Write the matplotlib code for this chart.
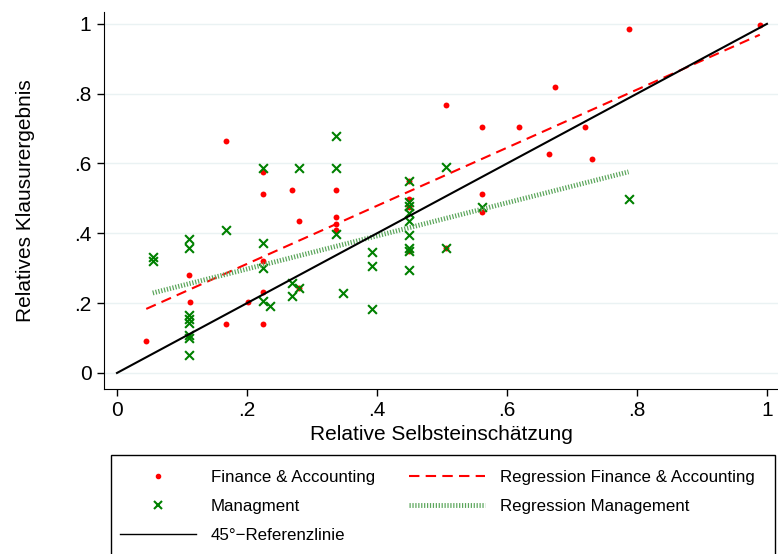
import matplotlib.pyplot as plt
import numpy as np
from matplotlib.lines import Line2D
from matplotlib.patches import Rectangle

plt.rcParams['font.family'] = ['Liberation Sans', 'DejaVu Sans']

# Finance & Accounting (x = Selbsteinschaetzung, y = Klausurergebnis)
fin_x = [0.045, 0.111, 0.112, 0.168, 0.168, 0.202, 0.225, 0.225, 0.225, 0.225,
         0.225, 0.270, 0.280, 0.280, 0.337, 0.337, 0.337, 0.337, 0.449, 0.449,
         0.449, 0.449, 0.506, 0.506, 0.562, 0.562, 0.562, 0.618, 0.664, 0.674,
         0.720, 0.731, 0.787, 0.989]
fin_y = [0.091, 0.282, 0.204, 0.665, 0.141, 0.204, 0.575, 0.512, 0.320, 0.231,
         0.141, 0.525, 0.435, 0.244, 0.525, 0.448, 0.426, 0.410, 0.551, 0.499,
         0.475, 0.348, 0.768, 0.358, 0.704, 0.512, 0.460, 0.704, 0.627, 0.819,
         0.704, 0.614, 0.985, 0.998]

# Management
man_x = [0.055, 0.055, 0.111, 0.111, 0.111, 0.111, 0.111, 0.111, 0.111, 0.111,
         0.168, 0.225, 0.225, 0.225, 0.225, 0.235, 0.270, 0.270, 0.280, 0.280,
         0.337, 0.337, 0.337, 0.348, 0.393, 0.393, 0.393, 0.449, 0.449, 0.449,
         0.449, 0.449, 0.449, 0.449, 0.449, 0.449, 0.506, 0.506, 0.562, 0.787]
man_y = [0.333, 0.321, 0.384, 0.358, 0.166, 0.154, 0.142, 0.109, 0.099, 0.052,
         0.410, 0.588, 0.372, 0.300, 0.206, 0.193, 0.257, 0.219, 0.588, 0.244,
         0.679, 0.588, 0.398, 0.230, 0.347, 0.307, 0.182, 0.551, 0.491, 0.477,
         0.458, 0.435, 0.396, 0.358, 0.348, 0.296, 0.589, 0.358, 0.474, 0.499]

# fitted lines (intercept, slope)
fin_fit = (0.146, 0.832)
man_fit = (0.203, 0.474)

ticks = [0, 0.2, 0.4, 0.6, 0.8, 1]
tick_labels = ['0', '.2', '.4', '.6', '.8', '1']

fig = plt.figure(figsize=(7.78, 5.54), dpi=100)
ax = fig.add_axes([104/778, 165/554, 674/778, 377/554])

ax.scatter(fin_x, fin_y, s=18, color='red', marker='o', linewidths=0, zorder=3)
fx = np.array([min(fin_x), max(fin_x)])
ax.plot(fx, fin_fit[0] + fin_fit[1]*fx, color='red', lw=1.5, dashes=(5, 3), zorder=4)
ax.scatter(man_x, man_y, s=40, color='green', marker='x', linewidths=1.5, zorder=5)
mx = np.array([min(man_x), max(man_x)])
ax.plot(mx, man_fit[0] + man_fit[1]*mx, color='#5aa55a', lw=3.5,
        dashes=(0.25, 0.35), dash_capstyle='butt', zorder=6)
ax.plot([0, 1], [0, 1], color='black', lw=1.5, zorder=7)

ax.set_xlim(-0.02, 1.017)
ax.set_ylim(-0.046, 1.034)
ax.set_xticks(ticks)
ax.set_xticklabels(tick_labels)
ax.set_yticks(ticks)
ax.set_yticklabels(tick_labels)
ax.tick_params(direction='out', length=5, width=1, labelsize=15, pad=4)
ax.yaxis.grid(True, color='#eaf2f3', lw=1)
ax.set_axisbelow(True)
for s in ['top', 'right']:
    ax.spines[s].set_visible(False)

ax.set_xlabel('Relative Selbsteinschätzung', fontsize=15, labelpad=3)
ax.set_ylabel('Relatives Klausurergebnis', fontsize=15, labelpad=28)

handles = [
    Line2D([], [], marker='o', color='red', ls='none', markersize=3),
    Line2D([], [], marker='x', color='green', ls='none', markersize=5.5, mew=1.5),
    Line2D([], [], color='black', lw=1),
    Line2D([], [], color='red', lw=1.5, dashes=(5, 3)),
    Line2D([], [], color='#5aa55a', lw=3.5, dashes=(0.25, 0.35), dash_capstyle='butt'),
]
labels = ['Finance & Accounting', 'Managment', '45°\u2212Referenzlinie',
          'Regression Finance & Accounting', 'Regression Management']
fig.legend(handles, labels, ncol=2, loc='upper left',
           bbox_to_anchor=(120/778, 1 - 470/554), bbox_transform=fig.transFigure,
           frameon=False, fontsize=12.2, handlelength=4.48, handletextpad=0.885,
           columnspacing=2.0, labelspacing=0.83, borderpad=0, borderaxespad=0)
fig.patches.append(Rectangle((111/778, -0.01), 664/778, 99/554 + 0.01,
                             transform=fig.transFigure, fill=False,
                             edgecolor='black', lw=1))

fig.savefig('out.png', dpi=100)
